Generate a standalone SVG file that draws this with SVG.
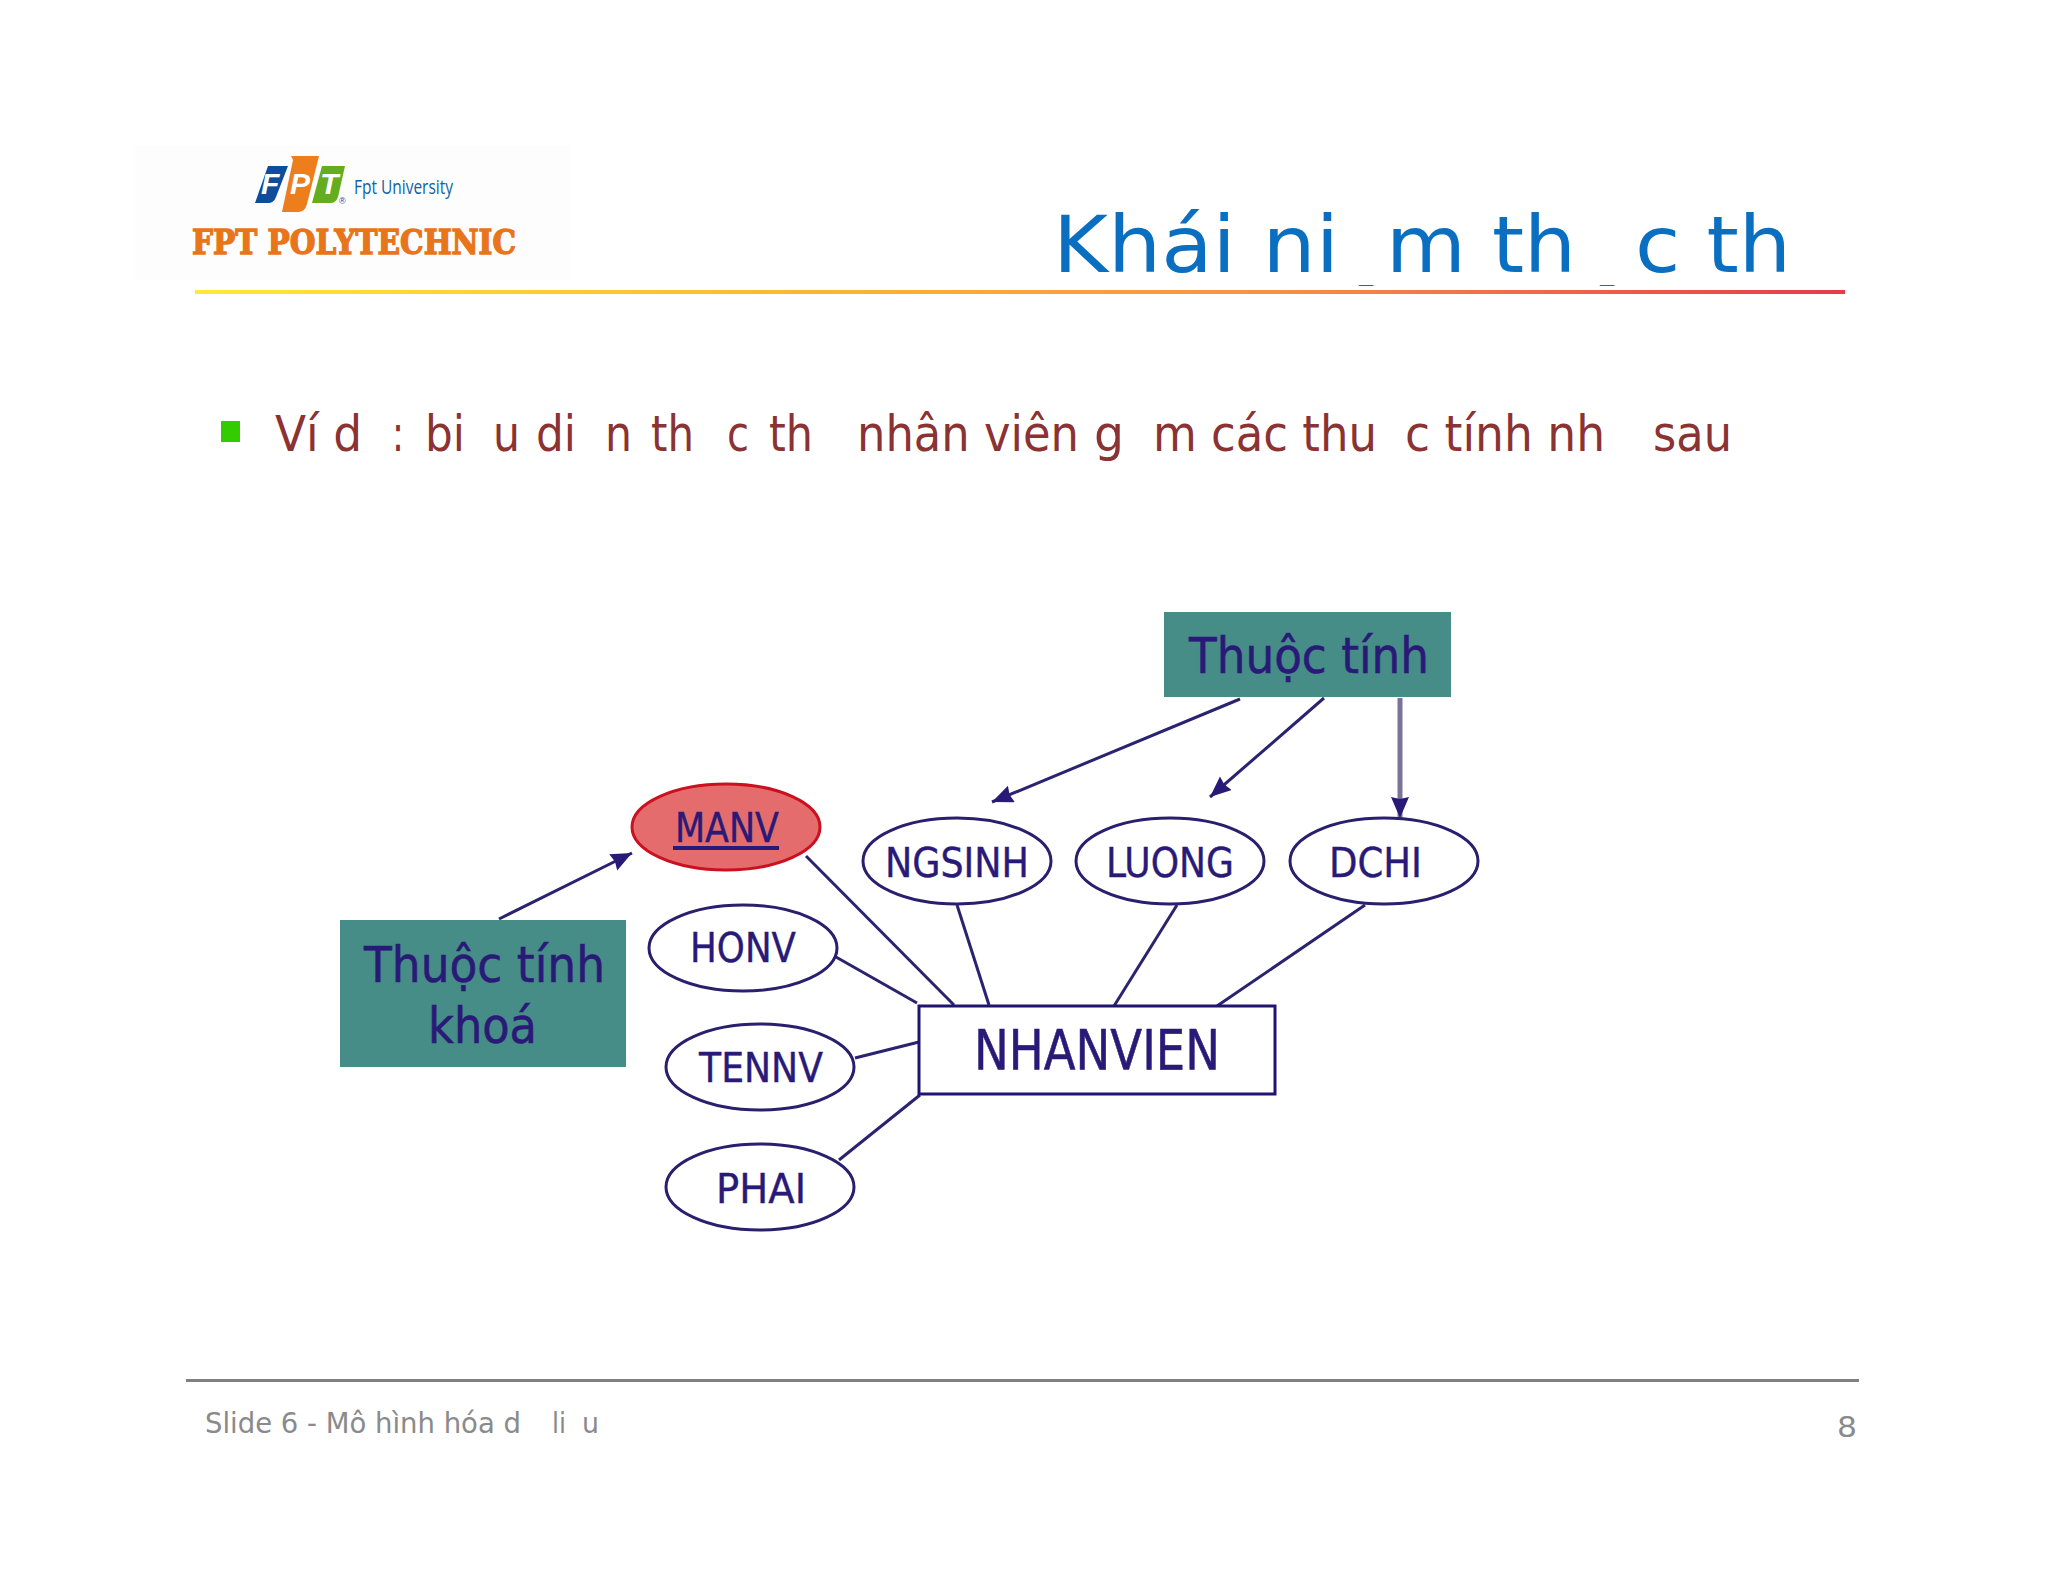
<svg xmlns="http://www.w3.org/2000/svg" width="2048" height="1582" viewBox="0 0 2048 1582">
<style>
.t{font-family:"DejaVu Sans","Liberation Sans",sans-serif}
.title{font-size:78px;fill:#0a6fc0}
.dash{font-size:14px;fill:#0a6fc0}
.body{font-size:50px;fill:#8b3232}
.foot{font-size:29px;fill:#8a8a8a}
.lbl{font-size:40px;fill:#2a1a78;stroke:#2a1a78;stroke-width:.4}
.note{font-size:50px;fill:#2a1a78;stroke:#2a1a78;stroke-width:.6}
.oval{fill:#fff;stroke:#2a1f6e;stroke-width:3}
.con{fill:none;stroke:#2a2370;stroke-width:3}
.tb{fill:#468c87}
</style>
<defs>
<linearGradient id="rule" x1="0" x2="1" y1="0" y2="0">
<stop offset="0" stop-color="#ffe838"/><stop offset=".35" stop-color="#fdb92e"/><stop offset=".65" stop-color="#f79146"/><stop offset="1" stop-color="#e83a4a"/>
</linearGradient>
<marker id="ah" markerUnits="userSpaceOnUse" markerWidth="24" markerHeight="20" refX="21" refY="9" orient="auto"><path d="M0 0L21 9L0 18L2 9Z" fill="#2a1a78"/></marker>
</defs>
<rect width="2048" height="1582" fill="#fff"/>
<rect x="135" y="145" width="435" height="135" fill="#fdfdfd"/>
<g id="logo">
<path d="M268 166H288L276 197Q274 203 268 203H255Z" fill="#0f4c9c"/>
<path d="M291 156H319L307 204Q305 212 298 212H282L293 160Z" fill="#ee7d1c"/>
<path d="M322 166H345L338 197Q336 203 330 203H312Z" fill="#63ad1e"/>
<text x="261" y="194" font-family="Liberation Sans,sans-serif" font-weight="700" font-style="italic" font-size="30" fill="#fff">F</text>
<text x="290" y="194" font-family="Liberation Sans,sans-serif" font-weight="700" font-style="italic" font-size="30" fill="#fff">P</text>
<text x="320" y="194" font-family="Liberation Sans,sans-serif" font-weight="700" font-style="italic" font-size="30" fill="#fff">T</text>
<text x="339" y="204" font-family="Liberation Sans,sans-serif" font-size="9" fill="#0f4c9c">®</text>
<text x="354" y="194" font-family="Open Sans,sans-serif" font-size="20" fill="#0f62a8" textLength="99" lengthAdjust="spacingAndGlyphs">Fpt University</text>
<text x="192" y="254" font-family="'DejaVu Serif',serif" font-weight="700" font-size="33" fill="#e8751a" stroke="#e8751a" stroke-width="1.4" textLength="324" lengthAdjust="spacingAndGlyphs">FPT POLYTECHNIC</text>
</g>
<rect id="title-rule" x="195" y="290" width="1650" height="4" fill="url(#rule)"/>
<g id="title">
<text class="t title" x="1053" y="272" textLength="286" lengthAdjust="spacingAndGlyphs">Khái ni</text>
<text class="t dash" x="1359" y="283" textLength="14" lengthAdjust="spacingAndGlyphs">_</text>
<text class="t title" x="1386" y="272" textLength="190" lengthAdjust="spacingAndGlyphs">m th</text>
<text class="t dash" x="1600" y="283" textLength="14" lengthAdjust="spacingAndGlyphs">_</text>
<text class="t title" x="1635" y="272" textLength="156" lengthAdjust="spacingAndGlyphs">c th</text>
</g>
<g id="bullet">
<rect x="221" y="421" width="19" height="21" fill="#33cc00"/>
<text class="t body" x="275" y="451" textLength="87" lengthAdjust="spacingAndGlyphs">Ví d</text>
<text class="t body" x="392" y="451" textLength="12" lengthAdjust="spacingAndGlyphs">:</text>
<text class="t body" x="425" y="451" textLength="40" lengthAdjust="spacingAndGlyphs">bi</text>
<text class="t body" x="493" y="451" textLength="27" lengthAdjust="spacingAndGlyphs">u</text>
<text class="t body" x="536" y="451" textLength="40" lengthAdjust="spacingAndGlyphs">di</text>
<text class="t body" x="605" y="451" textLength="27" lengthAdjust="spacingAndGlyphs">n</text>
<text class="t body" x="651" y="451" textLength="43" lengthAdjust="spacingAndGlyphs">th</text>
<text class="t body" x="727" y="451" textLength="22" lengthAdjust="spacingAndGlyphs">c</text>
<text class="t body" x="769" y="451" textLength="44" lengthAdjust="spacingAndGlyphs">th</text>
<text class="t body" x="857" y="451" textLength="222" lengthAdjust="spacingAndGlyphs">nhân viên</text>
<text class="t body" x="1094" y="451" textLength="30" lengthAdjust="spacingAndGlyphs">g</text>
<text class="t body" x="1153" y="451" textLength="224" lengthAdjust="spacingAndGlyphs">m các thu</text>
<text class="t body" x="1405" y="451" textLength="200" lengthAdjust="spacingAndGlyphs">c tính nh</text>
<text class="t body" x="1653" y="451" textLength="79" lengthAdjust="spacingAndGlyphs">sau</text>
</g>
<g id="connectors">
<path class="con" d="M806 856L954 1005"/>
<path class="con" d="M836 957L917 1003"/>
<path class="con" d="M855 1058L923 1041"/>
<path class="con" d="M839 1160L920 1095"/>
<path class="con" d="M957 905L989 1005"/>
<path class="con" d="M1177 905L1114 1006"/>
<path class="con" d="M1365 905L1217 1006"/>
<path class="con" d="M499 919L632 853" marker-end="url(#ah)"/>
<path class="con" d="M1240 699L992 802" marker-end="url(#ah)"/>
<path class="con" d="M1324 698L1210 797" marker-end="url(#ah)"/>
<path class="con" d="M1400 698V818" style="stroke:#7a7299;stroke-width:5" marker-end="url(#ah)"/>
</g>
<g id="manv">
<ellipse cx="726" cy="827" rx="94" ry="43" fill="#e46c6c" stroke="#cc1020" stroke-width="3"/>
<text class="t lbl" x="675" y="842" textLength="104" lengthAdjust="spacingAndGlyphs">MANV</text>
<rect x="673" y="846" width="106" height="4" fill="#2a1a78"/>
</g>
<g id="honv"><ellipse class="oval" cx="743" cy="948" rx="94" ry="43"/><text class="t lbl" x="690" y="962" textLength="106" lengthAdjust="spacingAndGlyphs">HONV</text></g>
<g id="ngsinh"><ellipse class="oval" cx="957" cy="861" rx="94" ry="43"/><text class="t lbl" x="885" y="877" textLength="144" lengthAdjust="spacingAndGlyphs">NGSINH</text></g>
<g id="luong"><ellipse class="oval" cx="1170" cy="861" rx="94" ry="43"/><text class="t lbl" x="1106" y="877" textLength="128" lengthAdjust="spacingAndGlyphs">LUONG</text></g>
<g id="dchi"><ellipse class="oval" cx="1384" cy="861" rx="94" ry="43"/><text class="t lbl" x="1329" y="877" textLength="93" lengthAdjust="spacingAndGlyphs">DCHI</text></g>
<g id="tennv"><ellipse class="oval" cx="760" cy="1067" rx="94" ry="43"/><text class="t lbl" x="699" y="1082" textLength="124" lengthAdjust="spacingAndGlyphs">TENNV</text></g>
<g id="phai"><ellipse class="oval" cx="760" cy="1187" rx="94" ry="43"/><text class="t lbl" x="716" y="1203" textLength="90" lengthAdjust="spacingAndGlyphs">PHAI</text></g>
<g id="nhanvien"><rect x="919" y="1006" width="356" height="88" fill="#fff" stroke="#1f1470" stroke-width="3"/><text class="t" x="974" y="1069" font-size="55" fill="#2a1a78" stroke="#2a1a78" stroke-width=".6" textLength="246" lengthAdjust="spacingAndGlyphs">NHANVIEN</text></g>
<g id="note-attr"><rect class="tb" x="1164" y="612" width="287" height="85"/><text class="t note" x="1189" y="673" textLength="240" lengthAdjust="spacingAndGlyphs">Thuộc tính</text></g>
<g id="note-key"><rect class="tb" x="340" y="920" width="286" height="147"/><text class="t note" x="364" y="982" textLength="241" lengthAdjust="spacingAndGlyphs">Thuộc tính</text><text class="t note" x="428" y="1043" textLength="109" lengthAdjust="spacingAndGlyphs">khoá</text></g>
<rect id="footer-rule" x="186" y="1379" width="1673" height="3" fill="#808080"/>
<g id="footer">
<text class="t foot" x="205" y="1433" textLength="316" lengthAdjust="spacingAndGlyphs">Slide 6 - Mô hình hóa d</text>
<text class="t foot" x="552" y="1433" textLength="14" lengthAdjust="spacingAndGlyphs">li</text>
<text class="t foot" x="582" y="1433" textLength="17" lengthAdjust="spacingAndGlyphs">u</text>
<text class="t foot" x="1837" y="1437" font-size="31" textLength="20" lengthAdjust="spacingAndGlyphs">8</text>
</g>
</svg>
